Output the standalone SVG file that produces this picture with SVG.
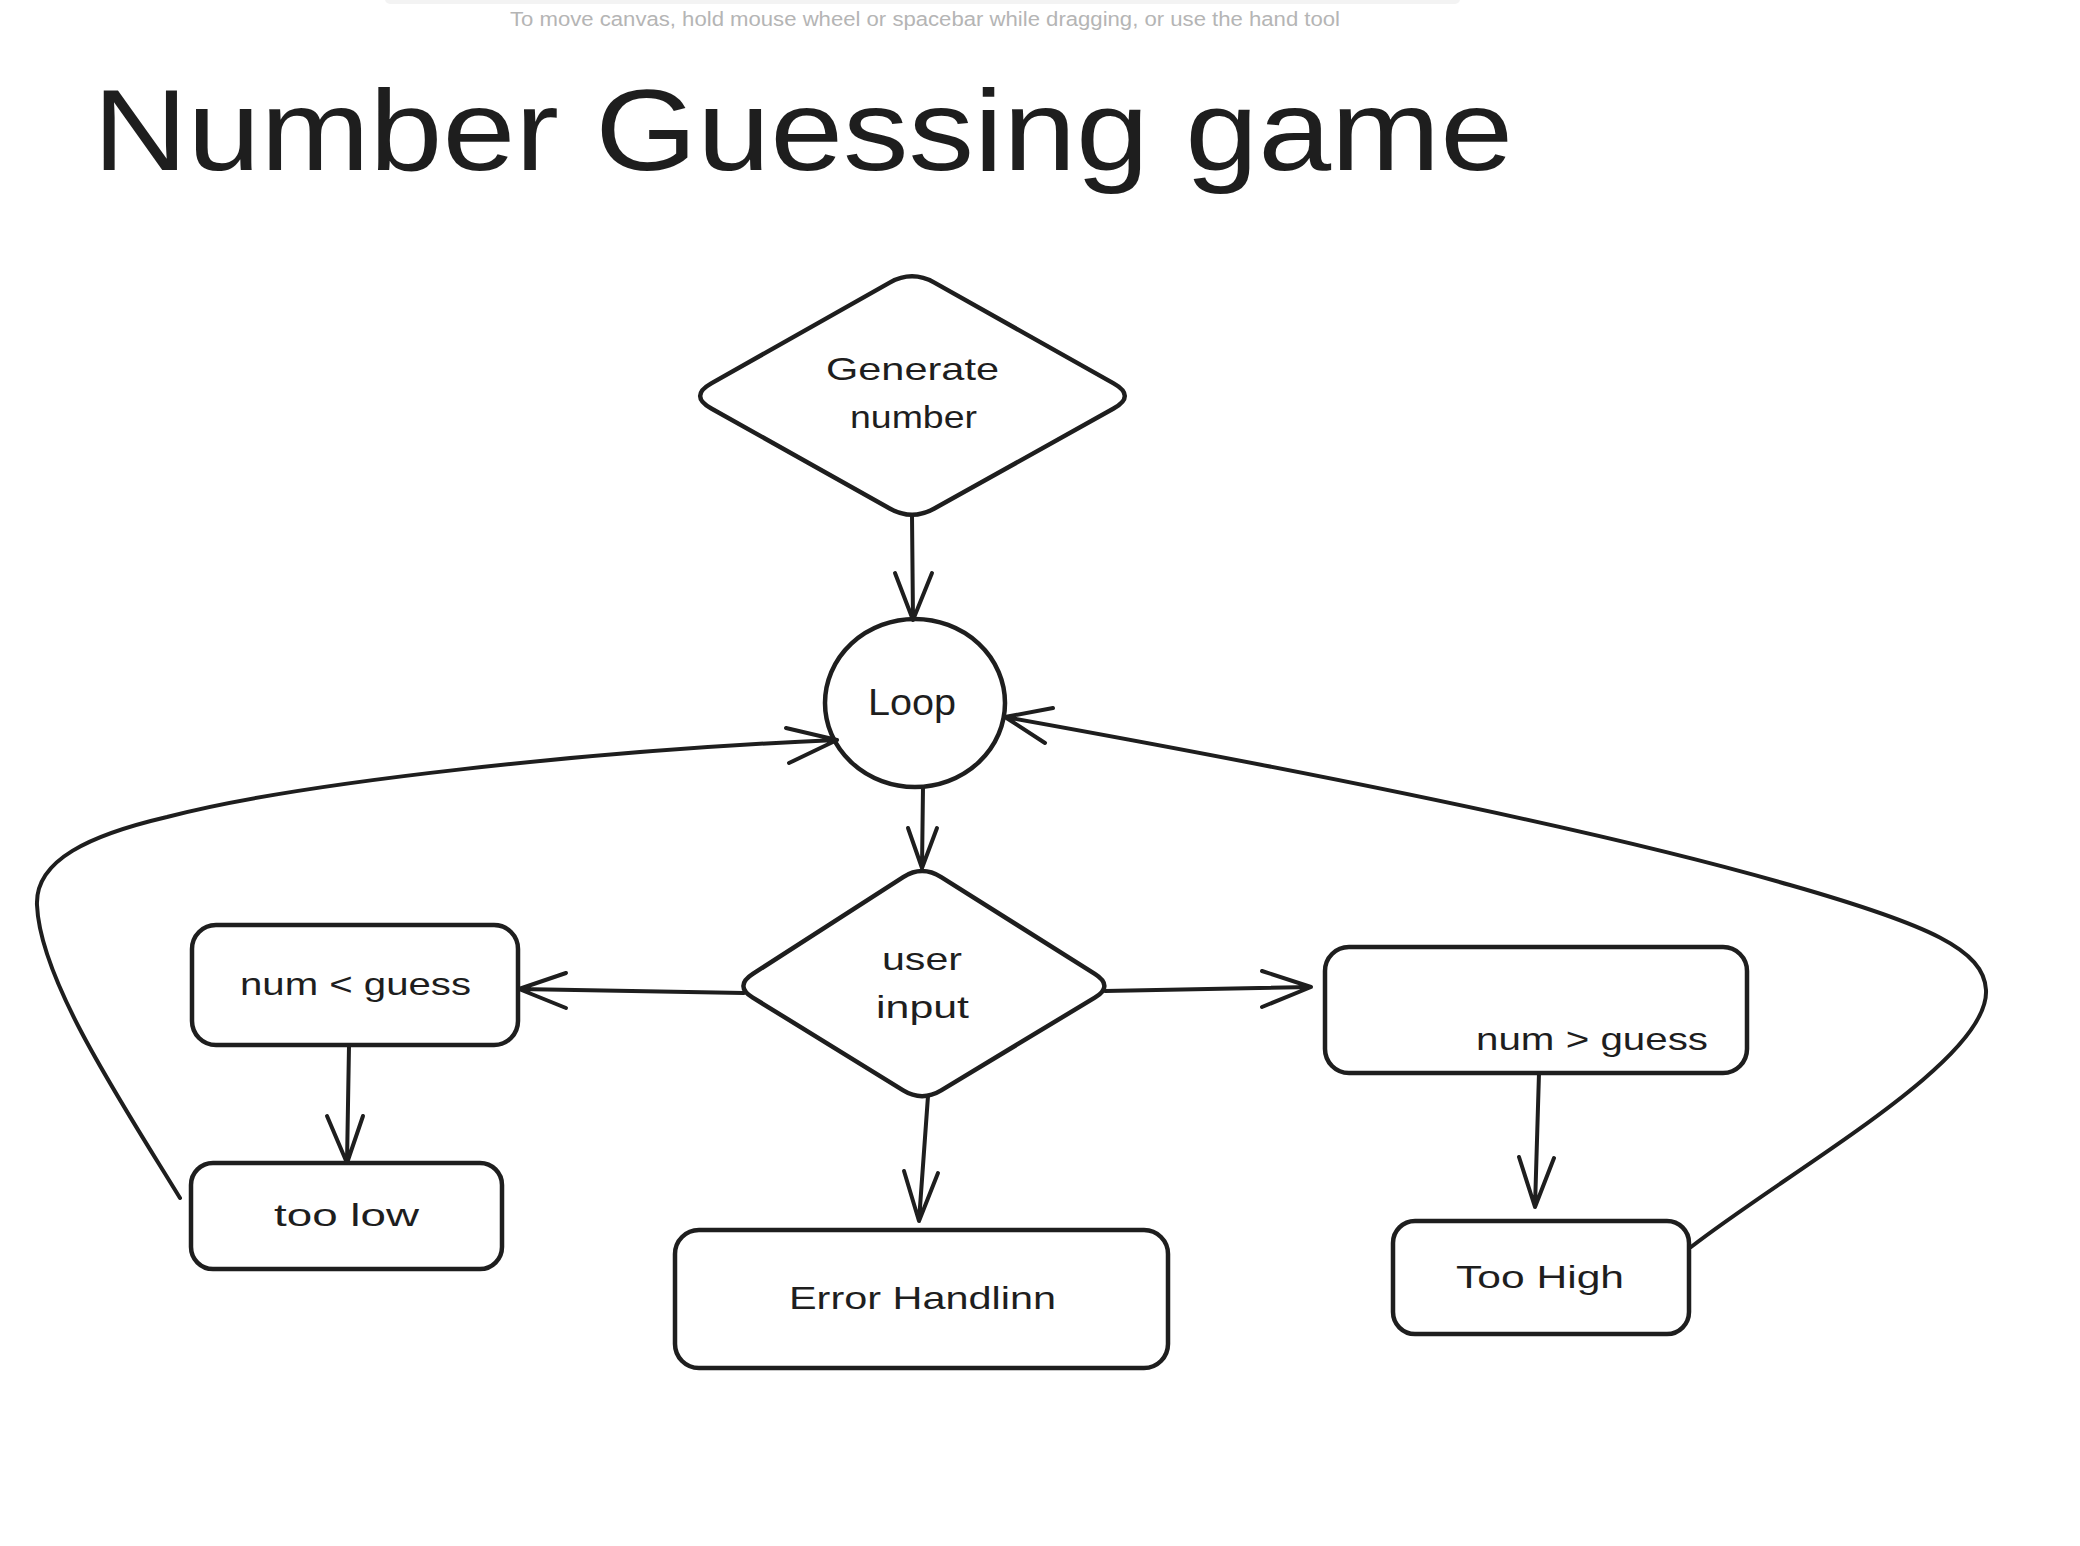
<svg xmlns="http://www.w3.org/2000/svg" width="2080" height="1546" viewBox="0 0 2080 1546">
<style>
.shape{fill:none;stroke:#1e1e1e;stroke-width:4.5;stroke-linejoin:round;stroke-linecap:round}
.conn{fill:none;stroke:#1e1e1e;stroke-width:4;stroke-linecap:round;stroke-linejoin:round}
.lbl{font-family:"Liberation Sans",Arial,sans-serif;font-size:32px;fill:#1e1e1e}
.title{font-family:"Liberation Sans",Arial,sans-serif;font-size:115px;fill:#1e1e1e}
.hint{font-family:"Liberation Sans",Arial,sans-serif;font-size:20px;fill:#b5b5b5}
</style>
<rect x="0" y="0" width="2080" height="1546" fill="#ffffff"/>
<rect x="385" y="-6" width="1075" height="10" rx="5" fill="#f3f3f3"/>
<text class="hint" x="510" y="26" textLength="830" lengthAdjust="spacingAndGlyphs">To move canvas, hold mouse wheel or spacebar while dragging, or use the hand tool</text>
<text class="title" x="93" y="170" textLength="1420" lengthAdjust="spacingAndGlyphs">Number Guessing game</text>

<g id="connectors">
  <path class="conn" d="M912,515 L913,620 M895,573 L913,620 L932,573"/>
  <path class="conn" d="M923,787 L922,868 M908,828 L922,868 L937,828"/>
  <path class="conn" d="M744,993 L519,989 M566,973 L519,989 L566,1008"/>
  <path class="conn" d="M349,1046 L347,1163 M327,1116 L347,1163 L363,1116"/>
  <path class="conn" d="M928,1096 L919,1221 M904,1171 L919,1221 L938,1173"/>
  <path class="conn" d="M1105,991 L1311,987 M1262,971 L1311,987 L1262,1007"/>
  <path class="conn" d="M1539,1073 L1535,1207 M1519,1157 L1535,1207 L1554,1158"/>
  <path class="conn" d="M180,1198 C120,1100 40,980 37,905 C35,860 90,835 167,817 C300,782 600,750 837,740 M786,728 L837,740 L789,763"/>
  <path class="conn" d="M1691,1247 C1790,1170 1990,1060 1986,990 C1984,950 1930,925 1790,885 C1600,830 1300,770 1005,717 M1053,708 L1005,717 L1045,743"/>
</g>

<g id="generate">
  <path class="shape" d="M889.7,282.6 Q912,270 934.4,282.6 L1113.6,383.4 Q1136,396 1113.6,408.5 L934.4,508.5 Q912,521 889.7,508.5 L711.3,408.5 Q689,396 711.3,383.4 Z"/>
  <text class="lbl" x="826" y="380" textLength="173" lengthAdjust="spacingAndGlyphs">Generate</text>
  <text class="lbl" x="850" y="428" textLength="127" lengthAdjust="spacingAndGlyphs">number</text>
</g>

<g id="loop">
  <ellipse class="shape" cx="915" cy="703" rx="90" ry="84"/>
  <text class="lbl" x="868" y="715" style="font-size:36px" textLength="88" lengthAdjust="spacingAndGlyphs">Loop</text>
</g>

<g id="userinput">
  <path class="shape" d="M903.2,877.1 Q922,865 941.2,877.1 L1094.8,973.9 Q1114,986 1094.8,997.6 L941.2,1090.4 Q922,1102 903.2,1090.4 L752.8,997.6 Q734,986 752.8,973.9 Z"/>
  <text class="lbl" x="882" y="970" textLength="80" lengthAdjust="spacingAndGlyphs">user</text>
  <text class="lbl" x="876" y="1018" textLength="93" lengthAdjust="spacingAndGlyphs">input</text>
</g>

<g id="numless">
  <rect class="shape" x="192" y="925" width="326" height="120" rx="24"/>
  <text class="lbl" x="240" y="995" textLength="231" lengthAdjust="spacingAndGlyphs">num &lt; guess</text>
</g>

<g id="toolow">
  <rect class="shape" x="191" y="1163" width="311" height="106" rx="22"/>
  <text class="lbl" x="274" y="1226" textLength="145" lengthAdjust="spacingAndGlyphs">too low</text>
</g>

<g id="error">
  <rect class="shape" x="675" y="1230" width="493" height="138" rx="24"/>
  <text class="lbl" x="789" y="1309" textLength="267" lengthAdjust="spacingAndGlyphs">Error Handlinn</text>
</g>

<g id="numgreater">
  <rect class="shape" x="1325" y="947" width="422" height="126" rx="24"/>
  <text class="lbl" x="1476" y="1050" textLength="232" lengthAdjust="spacingAndGlyphs">num &gt; guess</text>
</g>

<g id="toohigh">
  <rect class="shape" x="1393" y="1221" width="296" height="113" rx="22"/>
  <text class="lbl" x="1456" y="1288" textLength="168" lengthAdjust="spacingAndGlyphs">Too High</text>
</g>
</svg>
